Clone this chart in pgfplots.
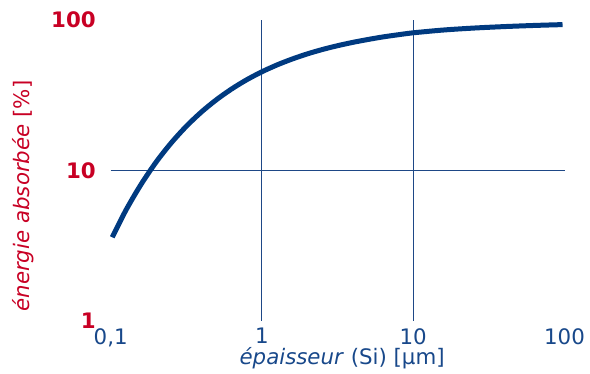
\documentclass[border=0pt]{standalone}
\usepackage{fontspec}
\setmainfont{DejaVu Sans}
\usepackage{pgfplots}
\pgfplotsset{compat=1.18}
\definecolor{cblue}{RGB}{0,58,128}
\definecolor{tblue}{RGB}{24,72,138}
\definecolor{gblue}{RGB}{30,72,134}
\definecolor{cred}{RGB}{200,0,36}
\begin{document}
\begin{tikzpicture}
\path[use as bounding box] (-83.0pt,-39.75pt) rectangle (359.5pt,240.75pt);
\begin{axis}[
  at={(0pt,0pt)}, anchor=south west,
  scale only axis, width=340.4pt, height=225.75pt,
  xmode=log, ymode=log,
  xmin=0.1, xmax=100, ymin=1, ymax=100,
  axis line style={draw=none},
  tick style={draw=none},
  major tick length=0pt, minor tick length=0pt,
  xtick={0.1,1,10,100}, xticklabels={{0,1},1,10,100},
  ytick={1,10,100}, yticklabels={1,10,100},
  minor xtick={}, minor ytick={},
  extra x ticks={1,10}, extra x tick labels={},
  extra y ticks={10}, extra y tick labels={},
  extra x tick style={grid=major},
  extra y tick style={grid=major},
  grid style={gblue, line width=0.8pt},
  xticklabel style={font=\fontsize{16}{19}\selectfont, text=tblue, anchor=north, inner sep=0pt, yshift=-5.25pt},
  yticklabel style={font=\fontsize{16}{19}\selectfont\bfseries, text=cred, anchor=east, inner sep=0pt, xshift=-11pt},
  xlabel={\textit{épaisseur} (Si) [µm]},
  xlabel style={at={(axis description cs:0.51,-0.146)}, anchor=base, inner sep=0pt, font=\fontsize{16}{19}\selectfont, text=tblue},
  ylabel={\textit{énergie absorbée} [\%]},
  ylabel style={at={(axis description cs:-0.1778,0.415)}, anchor=base, inner sep=0pt, font=\fontsize{16}{19}\selectfont, text=cred},
  clip=false,
]
\addplot[cblue, line width=3.75pt, smooth] coordinates {
(0.1025,3.6) (0.1259,5.43) (0.1585,8.06) (0.1995,11.35) (0.2512,15.24)
(0.3162,19.66) (0.3981,24.48) (0.5012,29.58) (0.631,34.83) (0.7943,40.11)
(1,45.3) (1.259,50.3) (1.585,55.05) (1.995,59.55) (2.512,63.7)
(3.162,67.5) (3.981,71.0) (5.012,74.2) (6.31,77.2) (7.943,79.8)
(10,82.2) (15.85,85.8) (25.12,88.4) (39.81,90.4) (63.1,92.0) (97,93.2)
};
\end{axis}
\end{tikzpicture}
\end{document}
